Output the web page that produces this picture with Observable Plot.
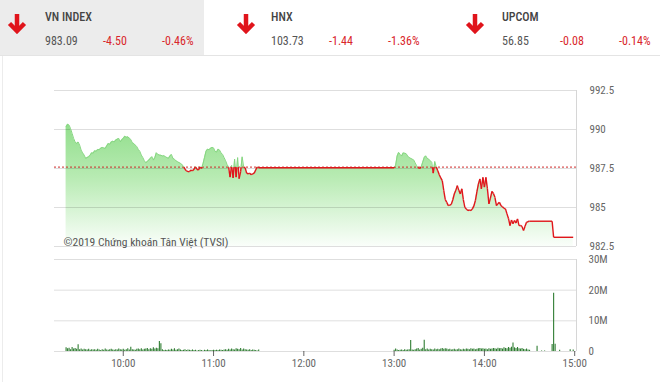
<!DOCTYPE html>
<html><head><meta charset="utf-8">
<script src="https://cdn.jsdelivr.net/npm/d3@7"></script>
<script src="https://cdn.jsdelivr.net/npm/@observablehq/plot@0.6"></script>
<style>
html,body{margin:0;padding:0;background:#fff;}
body{width:660px;height:382px;overflow:hidden;position:relative;font-family:'Roboto Condensed','Liberation Sans Narrow','Arial Narrow',Roboto,sans-serif;font-stretch:condensed;}
.box{position:absolute;left:0;top:0;width:204px;height:55px;background:#ececec;}
.sep{position:absolute;left:0;top:55px;width:660px;height:1px;background:#e4e4e4;}
.lft{position:absolute;left:2px;top:56px;width:1px;height:326px;background:#ececec;}
.t{position:absolute;font-size:12px;line-height:14px;white-space:nowrap;}
.nm{color:#444;font-weight:500;}
.val{color:#555;}
.neg{color:#d9262b;}
.arr{position:absolute;}
.chart{position:absolute;left:0;}
</style>
</head><body>
<div class="box"></div><div class="sep"></div><div class="lft"></div>
<div id="hdr"></div>
<div id="price" class="chart" style="top:80px"></div>
<div id="vol" class="chart" style="top:250px"></div>
<script>
// ---- header data ----
const indexNames = ["VN INDEX", "HNX", "UPCOM"];
const indexValues = ["983.09", "103.73", "56.85"];
const indexChanges = ["-4.50", "-1.44", "-0.08"];
const indexPercents = ["-0.46%", "-1.36%", "-0.14%"];

// ---- price series (VN-Index intraday) ----
const refValue = 987.59;
const priceTimes = [
"9:22","9:23","9:24","9:25","9:26","9:27","9:28","9:29","9:30","9:31","9:32","9:33","9:34","9:35","9:36","9:37","9:38","9:39","9:40","9:41",
"9:42","9:43","9:44","9:45","9:46","9:47","9:48","9:49","9:50","9:51","9:52","9:53","9:54","9:55","9:56","9:57","9:58","9:59","10:00","10:01",
"10:02","10:03","10:04","10:05","10:06","10:07","10:08","10:09","10:10","10:11","10:12","10:13","10:14","10:15","10:16","10:17","10:18","10:19","10:20","10:21",
"10:22","10:23","10:24","10:25","10:26","10:27","10:28","10:29","10:30","10:31","10:32","10:33","10:34","10:35","10:36","10:37","10:38","10:39","10:40","10:41",
"10:42","10:43","10:44","10:45","10:46","10:47","10:48","10:49","10:50","10:51","10:52","10:53","10:54","10:55","10:56","10:57","10:58","10:59","11:00","11:01",
"11:02","11:03","11:04","11:05","11:06","11:07","11:08","11:09","11:10","11:11","11:12","11:13","11:14","11:15","11:16","11:17","11:18","11:19","11:20","11:21",
"11:22","11:23","11:24","11:25","11:26","11:27","11:28","11:29","11:30",
"13:00","13:01","13:02","13:03","13:04","13:05","13:06","13:07","13:08","13:09","13:10","13:11","13:12","13:13","13:14","13:15","13:16","13:17","13:18","13:19",
"13:20","13:21","13:22","13:23","13:24","13:25","13:26","13:27","13:28","13:29","13:30","13:31","13:32","13:33","13:34","13:35","13:36","13:37","13:38","13:39",
"13:40","13:41","13:42","13:43","13:44","13:45","13:46","13:47","13:48","13:49","13:50","13:51","13:52","13:53","13:54","13:55","13:56","13:57","13:58","13:59",
"14:00","14:01","14:02","14:03","14:04","14:05","14:06","14:07","14:08","14:09","14:10","14:11","14:12","14:13","14:14","14:15","14:16","14:17","14:18","14:19",
"14:20","14:21","14:22","14:23","14:24","14:25","14:26","14:27","14:28","14:29","14:30","14:45","14:46","14:59"];
const priceValues = [
990.17,990.34,990.28,990.05,989.75,989.43,989.2,989.1,989.2,989.0,988.68,988.5,988.36,988.15,988.2,988.26,988.35,988.51,988.48,988.64,
988.6,988.72,988.7,988.8,988.85,988.82,988.79,988.95,989.1,989.05,989.2,989.25,989.2,989.32,989.38,989.43,989.2,989.35,989.43,989.57,
989.5,989.53,989.45,989.36,989.15,989.1,989.0,988.9,988.72,988.6,988.36,988.2,988.0,987.87,987.95,988.04,988.15,988.26,988.04,988.2,
988.51,988.4,988.36,988.35,988.3,988.32,988.26,988.2,988.15,988.3,988.4,988.15,988.09,988.0,987.94,987.88,987.83,987.75,987.66,987.45,
987.35,987.3,987.3,987.4,987.35,987.45,987.62,987.45,987.4,987.62,987.5,987.8,988.2,988.6,988.74,988.7,988.8,988.85,988.82,988.6,
988.55,988.74,988.68,988.5,988.4,988.2,988.0,987.75,987.6,986.95,987.7,986.9,988.1,986.95,988.2,986.85,987.3,988.25,987.6,987.55,
987.2,987.15,987.2,987.1,987.15,987.2,987.4,987.6,987.55,
987.55,987.7,988.3,988.53,988.4,988.3,988.5,988.48,988.45,988.3,988.2,988.15,988.1,988.05,987.85,987.68,987.55,987.5,987.6,987.9,
988.2,988.31,988.15,988.1,988.0,987.9,987.2,987.95,987.6,987.35,987.1,986.9,986.72,986.08,985.5,985.33,985.12,985.15,985.2,985.5,
985.87,986.1,986.4,986.1,985.87,986.2,985.5,985.01,984.9,984.8,984.85,984.8,984.91,985.1,985.44,986.0,986.5,986.83,986.2,986.93,
986.3,986.93,986.2,985.23,985.6,986.03,985.9,985.65,985.12,985.25,985.33,985.12,985.05,984.95,984.91,984.59,984.3,983.84,984.2,983.96,
984.17,984.0,984.27,983.84,983.85,983.78,983.52,983.8,984.05,984.1,984.12,984.12,983.09,983.09];

// ---- volume (millions of shares per minute) ----
const volMorningStart = "9:22";
const volMorning = [
1.2,0.9,1.1,0.6,1.3,0.8,1.0,0.7,2.2,0.6,
0.8,0.5,0.7,0.6,0.5,0.7,0.4,0.6,0.5,0.6,
0.4,0.7,0.5,0.3,0.6,0.4,0.8,0.5,0.4,0.6,
0.7,0.5,0.4,0.6,0.5,0.8,0.6,0.5,0.7,0.4,
0.6,0.9,0.5,1.4,0.6,0.5,0.4,0.7,0.8,0.6,
0.9,0.5,0.7,0.8,1.0,0.6,0.9,0.7,1.2,0.8,
1.1,0.9,3.3,2.5,0.6,0.3,0.4,0.3,0.5,0.4,
0.7,0.5,0.9,0.4,0.6,0.8,0.5,0.3,0.4,0.6,
0.3,0.5,0.4,0.3,0.5,0.3,0.4,0.2,0.3,0.4,
0.3,0.2,0.4,0.3,0.5,0.3,0.2,0.3,0.4,0.3,
0.4,0.3,0.5,0.4,0.3,0.5,0.6,0.4,0.7,0.5,
0.8,0.6,0.5,0.9,0.7,0.6,1.0,0.5,0.8,0.6,
0.5,0.4,0.6,0.3,0.5,0.4,0.3,0.2,0.5];
const volAfternoonStart = "13:00";
const volAfternoon = [
0.4,0.8,0.5,0.3,0.4,0.5,0.3,0.6,0.4,0.5,
0.6,3.6,0.5,0.4,0.6,0.8,1.0,0.5,0.7,1.1,
3.7,0.6,0.8,0.5,0.7,0.6,0.5,0.8,0.6,0.7,
0.6,0.8,1.0,0.7,0.9,0.8,0.6,0.7,0.5,0.6,
0.7,0.5,0.6,0.8,0.6,0.5,0.7,0.6,0.8,0.7,
0.6,0.9,0.7,0.8,0.6,0.7,0.9,1.0,0.8,0.9,
0.7,0.8,0.6,0.9,0.7,0.8,1.0,0.9,0.7,1.1,
0.9,1.0,0.8,1.2,1.0,0.9,1.3,1.1,1.4,2.8,
1.2,1.0,1.3,0.9,0.8,1.0,0.7,0.6,0.8,0.5,
0.4];
const volCloseTimes = ["14:35","14:38","14:40","14:45","14:46","14:47","14:50","14:57","14:59"];
const volCloseValues = [1.7,0.2,0.2,2.3,19.0,2.4,0.4,0.6,0.5];

// ---- axes ----
const priceTicks = [982.5, 985, 987.5, 990, 992.5];
const volTicks = [0, 10, 20, 30];
const volTickLabels = ["0", "10M", "20M", "30M"];
const timeTickLabels = ["10:00", "11:00", "12:00", "13:00", "14:00", "15:00"];
const caption = "©2019 Chứng khoán Tân Việt (TVSI)";

// ---------------------------------------------------------------
const toMin = s => { const [h, m] = s.split(":").map(Number); return h * 60 + m; };
const xDomain = [554.3, 901.2];
const FONT = "'Roboto Condensed','Liberation Sans Narrow','Arial Narrow',Roboto,sans-serif";

// header
const hdr = document.getElementById("hdr");
const blockText = [45, 271, 502], blockArrow = [7, 236, 465];
indexNames.forEach((n, i) => {
  const x = blockText[i];
  hdr.insertAdjacentHTML("beforeend",
    `<svg class="arr" style="left:${blockArrow[i]}px;top:13px" width="20" height="21" viewBox="0 0 20 21">
       <path d="M10 1 V17" stroke="#e0141b" stroke-width="4.5" fill="none"/>
       <path d="M2.5 10.5 L10 18 L17.5 10.5" stroke="#e0141b" stroke-width="4.5" fill="none" stroke-linejoin="miter"/>
     </svg>
     <div class="t nm" style="left:${x}px;top:10px">${n}</div>
     <div class="t val" style="left:${x}px;top:34px">${indexValues[i]}</div>
     <div class="t neg" style="left:${x + 58}px;top:34px">${indexChanges[i]}</div>
     <div class="t neg" style="left:${x + 117}px;top:34px">${indexPercents[i]}</div>`);
});

// price
const pts = priceTimes.map((t, i) => ({t: toMin(t), v: priceValues[i]}));
const segs = [];
for (let i = 1; i < pts.length; i++) {
  const a = pts[i - 1], b = pts[i];
  const sa = a.v >= refValue, sb = b.v >= refValue;
  if (sa === sb) segs.push({x1: a.t, y1: a.v, x2: b.t, y2: b.v, up: sa});
  else {
    const tc = a.t + (refValue - a.v) / (b.v - a.v) * (b.t - a.t);
    segs.push({x1: a.t, y1: a.v, x2: tc, y2: refValue, up: sa});
    segs.push({x1: tc, y1: refValue, x2: b.t, y2: b.v, up: sb});
  }
}
const yMin = priceTicks[0];
const price = Plot.plot({
  width: 660, height: 176, marginLeft: 54, marginRight: 84, marginTop: 10, marginBottom: 10,
  style: {fontFamily: FONT, fontSize: "11px", color: "#666", background: "transparent", overflow: "visible"},
  x: {domain: xDomain, axis: null, label: null},
  y: {domain: [priceTicks[0], priceTicks[priceTicks.length - 1]], axis: "right", label: null, ticks: priceTicks, tickSize: 0, tickPadding: 13, tickFormat: d => String(d)},
  marks: [
    Plot.areaY(pts, {x: "t", y1: () => yMin, y2: "v", fill: "url(#pgrad)"}),
    Plot.ruleY(priceTicks, {stroke: "#000", strokeOpacity: 0.13}),
    Plot.ruleX([xDomain[1]], {stroke: "#d6d6d6"}),
    Plot.ruleY([refValue], {stroke: "#cf2a2a", strokeDasharray: "2,2", strokeWidth: 1}),
    Plot.link(segs.filter(d => d.up), {x1: "x1", y1: "y1", x2: "x2", y2: "y2", stroke: "#86d681", strokeWidth: 1}),
    Plot.link(segs.filter(d => !d.up), {x1: "x1", y1: "y1", x2: "x2", y2: "y2", stroke: "#e0161b", strokeWidth: 1.4}),
    Plot.text([caption], {frameAnchor: "bottom-left", textAnchor: "start", lineAnchor: "bottom", dx: 9, dy: -1, fill: "#555", fontSize: 11.5})
  ]
});
const ys = price.scale("y");
price.insertAdjacentHTML("afterbegin",
  `<defs><linearGradient id="pgrad" gradientUnits="userSpaceOnUse" x1="0" x2="0" y1="${ys.apply(990.5)}" y2="${ys.apply(yMin)}">
     <stop offset="0" stop-color="#8fdd89"/>
     <stop offset="0.45" stop-color="#b8ebb3"/>
     <stop offset="1" stop-color="#fafefa"/>
   </linearGradient></defs>`);
document.getElementById("price").appendChild(price);

// volume
const volData = [];
const m0 = toMin(volMorningStart), a0 = toMin(volAfternoonStart);
volMorning.forEach((v, i) => volData.push({t: m0 + i, v}));
volAfternoon.forEach((v, i) => volData.push({t: a0 + i, v}));
volCloseTimes.forEach((t, i) => volData.push({t: toMin(t), v: volCloseValues[i]}));
const timeTickPos = timeTickLabels.map(toMin);
const vol = Plot.plot({
  width: 660, height: 132, marginLeft: 54, marginRight: 84, marginTop: 9, marginBottom: 31,
  style: {fontFamily: FONT, fontSize: "11px", color: "#666", background: "transparent", overflow: "visible"},
  x: {domain: xDomain, label: null, ticks: timeTickPos, tickFormat: d => timeTickLabels[timeTickPos.indexOf(d)], tickSize: 5, tickPadding: 3},
  y: {domain: [volTicks[0], volTicks[volTicks.length - 1]], axis: "right", label: null, ticks: volTicks, tickSize: 0, tickPadding: 12, tickFormat: d => volTickLabels[volTicks.indexOf(d)]},
  marks: [
    Plot.ruleY(volTicks, {stroke: "#000", strokeOpacity: 0.13}),
    Plot.ruleX([xDomain[1]], {stroke: "#d6d6d6"}),
    Plot.ruleX(volData, {x: "t", y1: () => 0, y2: "v", stroke: "#2f7d32", strokeWidth: 1.1})
  ]
});
document.getElementById("vol").appendChild(vol);
</script>
</body></html>
